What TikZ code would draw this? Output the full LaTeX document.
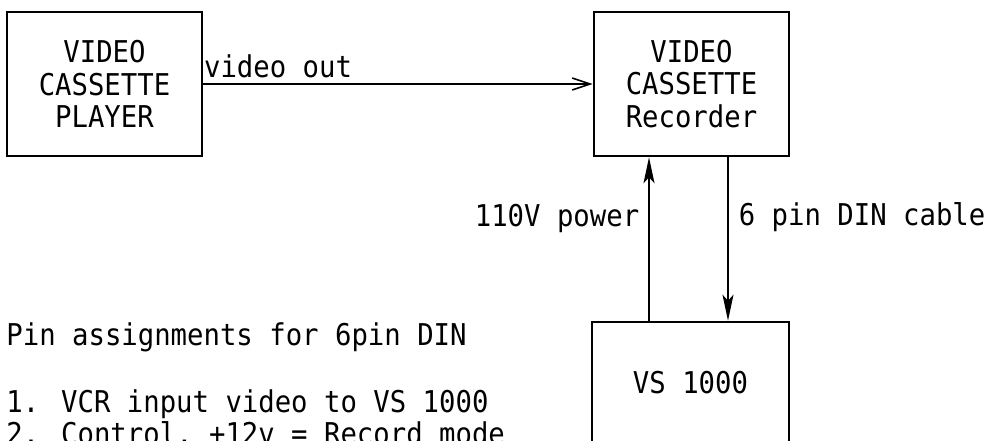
\documentclass[tikz,border=0pt]{standalone}
\usepackage{fontspec}
\newfontfamily\typewriterfont[FakeStretch=0.91]{DejaVu Sans Mono}
\usetikzlibrary{
  arrows.meta,
  positioning
}
\newcommand{\diagramtypefont}{\typewriterfont\fontsize{15}{16.25}\selectfont}
\tikzset{
  % Global typography and reusable block geometry.
  every node/.style={font=\diagramtypefont},
  device box/.style={
    draw=black,
    line width=1.3pt,
    minimum width=97.5pt,
    minimum height=72pt,
    inner sep=0pt,
    align=center
  },
  signal flow/.style={
    -{Straight Barb[length=9pt,width=6pt]},
    draw=black,
    line width=0.8pt
  },
  power flow/.style={
    -{Stealth[length=13pt,width=5.5pt,inset=3pt]},
    draw=black,
    line width=0.8pt
  },
  cable label/.style={
    inner sep=0pt
  },
  pin note/.style={
    inner sep=0pt,
    anchor=base west
  }
}

\begin{document}
\begin{tikzpicture}[x=0.5pt,y=-0.5pt]

\useasboundingbox (0,0) rectangle (987,440);
\clip (0,0) rectangle (987,440);

% ---------------------------------------------------------------------------
% Devices
% ---------------------------------------------------------------------------
\node[device box] (player) at (104.5,84) {VIDEO\\CASSETTE\\PLAYER};
\node[device box] (recorder) at (691.5,84) {VIDEO\\CASSETTE\\Recorder};
\node[device box, minimum width=98.5pt, minimum height=61pt] (vs) at (690.5,383)
  {VS 1000};

% ---------------------------------------------------------------------------
% Connections
% ---------------------------------------------------------------------------
\draw[signal flow]
  (player.east) --
  node[pos=0, anchor=base west, cable label, yshift=3.5pt] {video out}
  (recorder.west);

\draw[power flow]
  ([xshift=-20.75pt]vs.north) --
  node[pos=0.578, anchor=base east, cable label, xshift=-4.5pt] {110V power}
  ([xshift=-20.75pt]vs.north |- recorder.south);

\draw[power flow]
  ([xshift=18.75pt]vs.north |- recorder.south) --
  node[pos=0.42, anchor=base west, cable label, xshift=5pt] {6 pin DIN cable}
  ([xshift=18.75pt]vs.north);

% ---------------------------------------------------------------------------
% Pin notes
% ---------------------------------------------------------------------------
\node[pin note] (pinTitle) at (6,345) {Pin assignments for 6pin DIN};
\node[pin note] (pinVideo) at (6,412) {1. VCR input video to VS 1000};
\node[pin note] (pinControl) at (6,444) {2. Control, +12v = Record mode};

\end{tikzpicture}
\end{document}
